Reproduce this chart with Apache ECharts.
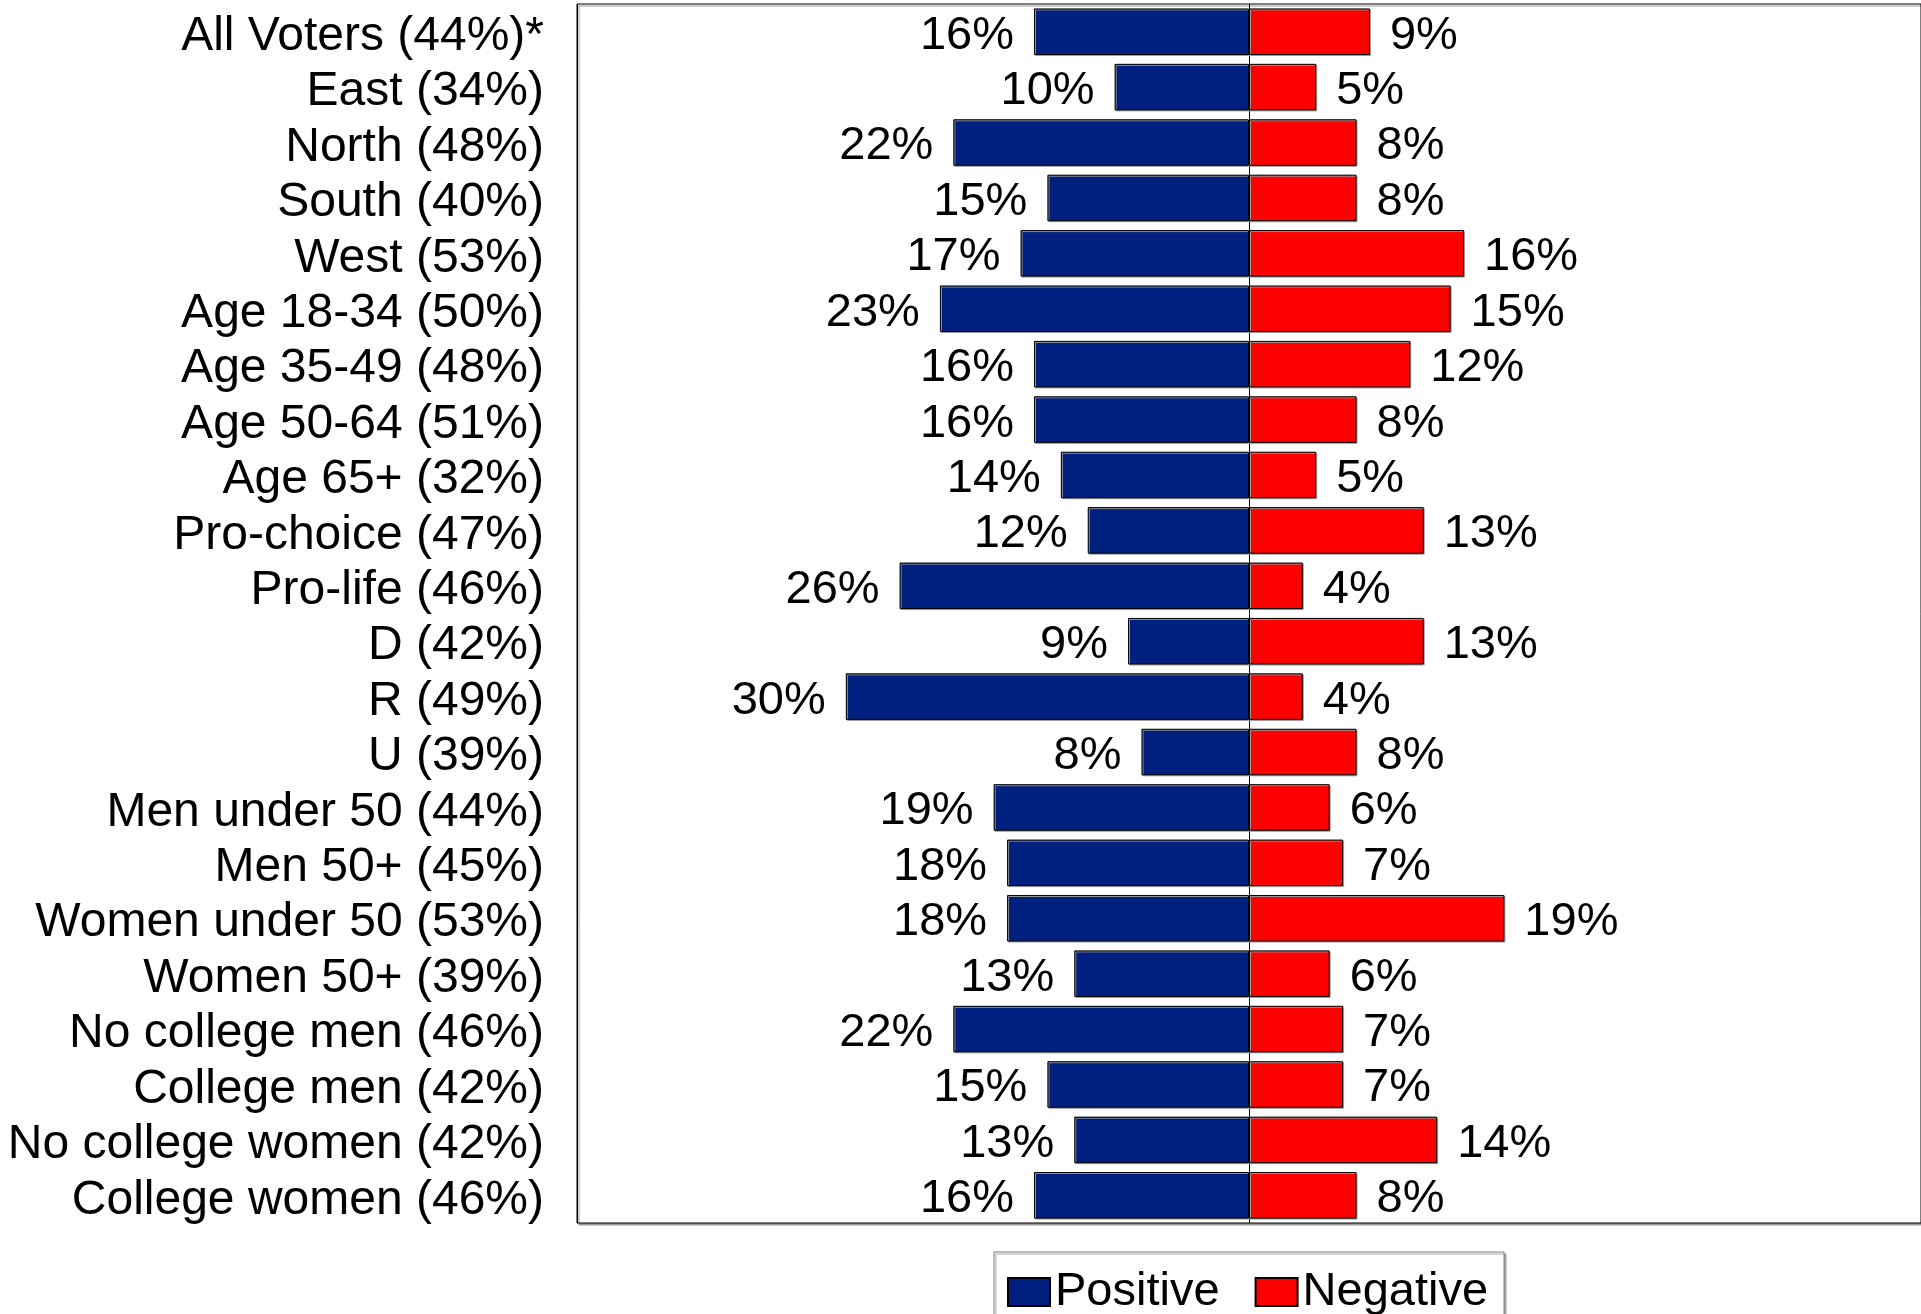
<!DOCTYPE html>
<html>
<head>
<meta charset="utf-8">
<script src="https://cdn.jsdelivr.net/npm/echarts@6/dist/echarts.min.js"></script>
<style>
html,body{margin:0;padding:0;background:#fff;}
#chart{width:1921px;height:1314px;}
</style>
</head>
<body>
<div id="chart"></div>
<script>
const categories = [
  "All Voters (44%)*", "East (34%)", "North (48%)", "South (40%)", "West (53%)",
  "Age 18-34 (50%)", "Age 35-49 (48%)", "Age 50-64 (51%)", "Age 65+ (32%)",
  "Pro-choice (47%)", "Pro-life (46%)", "D (42%)", "R (49%)", "U (39%)",
  "Men under 50 (44%)", "Men 50+ (45%)", "Women under 50 (53%)", "Women 50+ (39%)",
  "No college men (46%)", "College men (42%)", "No college women (42%)", "College women (46%)"
];
const positive = [16, 10, 22, 15, 17, 23, 16, 16, 14, 12, 26, 9, 30, 8, 19, 18, 18, 13, 22, 15, 13, 16];
const negative = [9, 5, 8, 8, 16, 15, 12, 8, 5, 13, 4, 13, 4, 8, 6, 7, 19, 6, 7, 7, 14, 8];
const seriesNames = ["Positive", "Negative"];

const FONT = "'Liberation Sans', Arial, Helvetica, sans-serif";
const chart = echarts.init(document.getElementById('chart'), null, {renderer: 'canvas'});
chart.setOption({
  backgroundColor: '#fff',
  animation: false,
  textStyle: {fontFamily: FONT, color: '#000'},
  grid: {
    left: 577, top: 4, width: 1348, bottom: 91,
    show: true, borderColor: '#000', borderWidth: 1, backgroundColor: '#fff',
    shadowColor: '#999', shadowOffsetX: 2, shadowOffsetY: 2, shadowBlur: 0
  },
  legend: {
    data: seriesNames,
    left: 994, top: 1252,
    padding: [12, 16, 20, 13],
    itemWidth: 42, itemHeight: 28, itemGap: 35,
    borderColor: '#777', borderWidth: 1,
    shadowColor: '#aaa', shadowOffsetX: 2, shadowOffsetY: 2, shadowBlur: 0,
    backgroundColor: '#fff',
    textStyle: {fontSize: 47, fontFamily: FONT, color: '#000', lineHeight: 50, padding: [6, 0, 0, 0]},
    icon: 'rect'
  },
  xAxis: {
    type: 'value', min: -50, max: 50, interval: 50,
    axisLabel: {show: false}, axisTick: {show: false}, axisLine: {show: false},
    splitLine: {show: true, lineStyle: {color: '#000', width: 1}}
  },
  yAxis: {
    type: 'category', data: categories, inverse: true,
    axisLine: {show: false}, axisTick: {show: false},
    axisLabel: {interval: 0, color: '#000', margin: 33,
      formatter: v => '{a|' + v + '}',
      rich: {a: {fontSize: 48, fontFamily: FONT, color: '#000', padding: [10, 0, 0, 0]}}}
  },
  series: [
    {
      name: seriesNames[0], type: 'bar', barCategoryGap: '16%', barGap: '-100%',
      data: positive.map(v => -v),
      itemStyle: {color: '#00207F', borderColor: '#000', borderWidth: 1,
        shadowColor: '#999', shadowOffsetX: 1, shadowOffsetY: 1, shadowBlur: 0},
      label: {show: true, position: 'left', distance: 20, offset: [0, 4], fontSize: 47, fontFamily: FONT, color: '#000',
        formatter: p => Math.abs(p.value) + '%'}
    },
    {
      name: seriesNames[1], type: 'bar', barCategoryGap: '16%', barGap: '-100%',
      data: negative,
      itemStyle: {color: '#FF0000', borderColor: '#000', borderWidth: 1,
        shadowColor: '#999', shadowOffsetX: 1, shadowOffsetY: 1, shadowBlur: 0},
      label: {show: true, position: 'right', distance: 20, offset: [0, 4], fontSize: 47, fontFamily: FONT, color: '#000',
        formatter: p => p.value + '%'}
    }
  ]
});
</script>
</body>
</html>
